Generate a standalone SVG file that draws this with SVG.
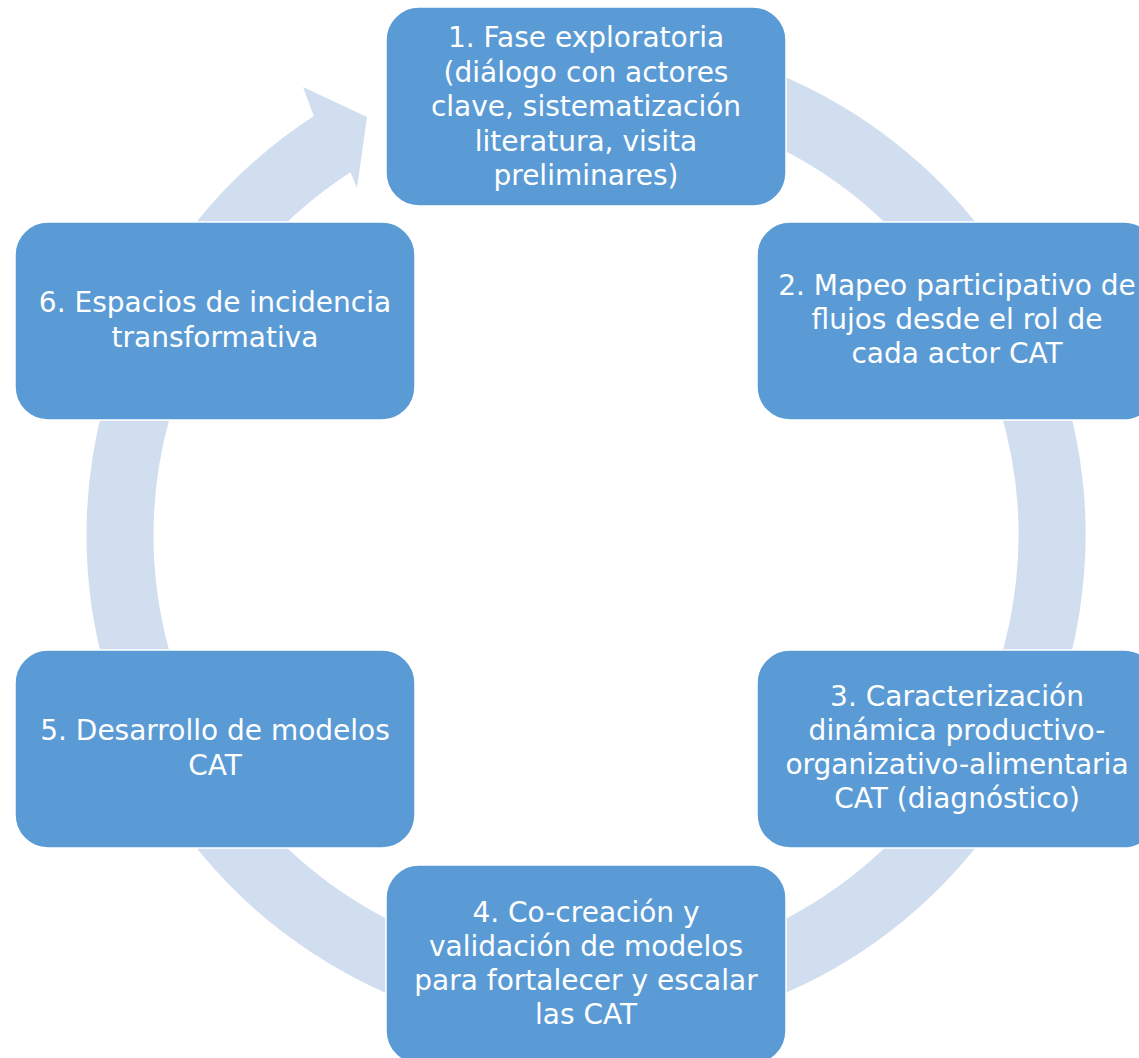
<svg xmlns="http://www.w3.org/2000/svg" width="1139" height="1058" viewBox="0 0 1139 1058">
<style>
.box{fill:#5B9BD5;stroke:#FFFFFF;stroke-width:1.5}
.lbl{font-family:'DejaVu Sans',sans-serif;font-size:28px;fill:#FFFFFF;text-anchor:middle}
.ring{fill:none;stroke:#D0DEEF;stroke-width:67}
.head{fill:#D0DEEF}
</style>
<rect width="1139" height="1058" fill="#FFFFFF"/>
<g id="connectors">
<path class="ring" d="M465.4,84.9 A466,466 0 1 1 332.2,144.2"/>
<polygon class="head" points="313.7,115.7 303,87 367,117 357,188 350.7,172.7"/>
</g>
<g id="node1">
<rect class="box" x="386" y="7" width="400" height="199" rx="33"/>
<text class="lbl" x="586" y="47">1. Fase exploratoria</text>
<text class="lbl" x="586" y="82">(diálogo con actores</text>
<text class="lbl" x="586" y="116">clave, sistematización</text>
<text class="lbl" x="586" y="151">literatura, visita</text>
<text class="lbl" x="586" y="185">preliminares)</text>
</g>
<g id="node2">
<rect class="box" x="757" y="222" width="400" height="198" rx="33"/>
<text class="lbl" x="957" y="295">2. Mapeo participativo de</text>
<text class="lbl" x="957" y="329">flujos desde el rol de</text>
<text class="lbl" x="957" y="363">cada actor CAT</text>
</g>
<g id="node3">
<rect class="box" x="757" y="650" width="400" height="198" rx="33"/>
<text class="lbl" x="957" y="706">3. Caracterización</text>
<text class="lbl" x="957" y="740">dinámica productivo-</text>
<text class="lbl" x="957" y="774">organizativo-alimentaria</text>
<text class="lbl" x="957" y="808">CAT (diagnóstico)</text>
</g>
<g id="node4">
<rect class="box" x="386" y="865" width="400" height="199" rx="33"/>
<text class="lbl" x="586" y="922">4. Co-creación y</text>
<text class="lbl" x="586" y="956">validación de modelos</text>
<text class="lbl" x="586" y="990">para fortalecer y escalar</text>
<text class="lbl" x="586" y="1024">las CAT</text>
</g>
<g id="node5">
<rect class="box" x="15" y="650" width="400" height="198" rx="33"/>
<text class="lbl" x="215" y="740">5. Desarrollo de modelos</text>
<text class="lbl" x="215" y="775">CAT</text>
</g>
<g id="node6">
<rect class="box" x="15" y="222" width="400" height="198" rx="33"/>
<text class="lbl" x="215" y="312">6. Espacios de incidencia</text>
<text class="lbl" x="215" y="347">transformativa</text>
</g>
</svg>
